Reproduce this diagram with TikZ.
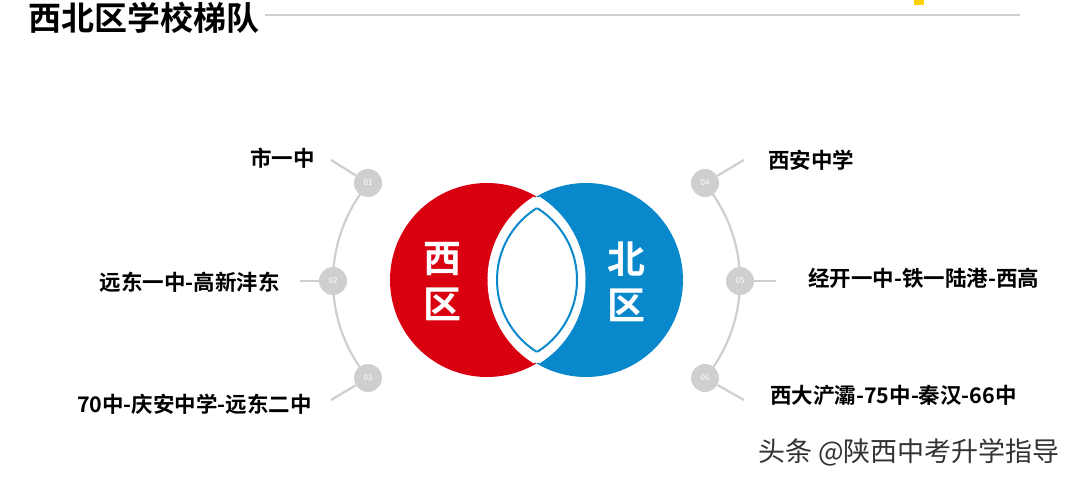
\documentclass[tikz,border=0pt]{standalone}
\usepackage{fontspec}
\setmainfont{Noto Sans CJK SC}[BoldFont={Noto Sans CJK SC Bold}]
\definecolor{redc}{HTML}{D9000F}
\definecolor{bluec}{HTML}{0A88CC}
\definecolor{grayc}{HTML}{CFCFCF}
\begin{document}
\begin{tikzpicture}[x=1pt,y=-1pt,
  num/.style={circle,fill=grayc,minimum size=28pt,inner sep=0pt,text=white,font=\fontsize{8}{8}\selectfont\itshape},
  lab/.style={font=\fontsize{21.5}{23}\selectfont\bfseries,inner sep=0pt},
  conn/.style={draw=grayc,line width=2.2pt}]
\useasboundingbox[fill=white] (0,0) rectangle (1080,478);
% title
\node[anchor=west,font=\fontsize{33}{34}\selectfont\bfseries,inner sep=0pt] (title) at (28,18) {西北区学校梯队};
\draw[grayc,line width=1.2pt] (265,15) -- (1020,15);
\fill[yellow!70!orange] (914,0) rectangle (924,5);
% arcs
\draw[conn] (485,281) ++(140:152) arc[start angle=140,end angle=220,radius=152];
\draw[conn] (588,281) ++(40:152) arc[start angle=40,end angle=-40,radius=152];
% circles
\fill[redc] (487,280) circle (97);
\fill[bluec] (586,280) circle (97);
\begin{scope}
\clip (487,280) circle (97);
\fill[white] (586,280) circle (97);
\end{scope}
\draw[white,line width=3pt] (586,280) ++(122:97) arc[start angle=122,end angle=238,radius=97];
\draw[white,line width=3pt] (487,280) ++(58:97) arc[start angle=58,end angle=-58,radius=97];
\begin{scope}
\clip (492.2,280) circle (84.8);
\draw[bluec,line width=2pt] (581.8,280) circle (84.8);
\end{scope}
\begin{scope}
\clip (581.8,280) circle (84.8);
\draw[bluec,line width=2pt] (492.2,280) circle (84.8);
\end{scope}
\node[text=white,font=\fontsize{38}{46}\selectfont\bfseries,align=center] (xi) at (442,282) {西\\区};
\node[text=white,font=\fontsize{38}{46}\selectfont\bfseries,align=center] (bei) at (626,282) {北\\区};
% number nodes
\node[num] (n1) at (368,183) {01};
\node[num] (n2) at (333,281) {02};
\node[num] (n3) at (368,378) {03};
\node[num] (n4) at (705,183) {04};
\node[num] (n5) at (740,281) {05};
\node[num] (n6) at (705,378) {06};
\coordinate (e1) at (331,160);
\coordinate (e2) at (300,281);
\coordinate (e3) at (331,400);
\coordinate (e4) at (744,160);
\coordinate (e5) at (776,281);
\coordinate (e6) at (744,400);
\draw[conn] (n1) -- (e1); \draw[conn] (n2) -- (e2); \draw[conn] (n3) -- (e3);
\draw[conn] (n4) -- (e4); \draw[conn] (n5) -- (e5); \draw[conn] (n6) -- (e6);
% labels
\node[lab,anchor=east] (l1) at (315,158) {市一中};
\node[lab,anchor=east] (l2) at (280,282) {远东一中-高新沣东};
\node[lab,anchor=east] (l3) at (312,404) {70中-庆安中学-远东二中};
\node[lab,anchor=west] (l4) at (768,160) {西安中学};
\node[lab,anchor=west] (l5) at (808,278) {经开一中-铁一陆港-西高};
\node[lab,anchor=west] (l6) at (770,395) {西大浐灞-75中-秦汉-66中};
% watermark
\node[anchor=west,inner sep=0pt,text=black!80,font=\fontsize{27}{28}\selectfont] (wm) at (758,452) {头条 @陕西中考升学指导};
\end{tikzpicture}
\end{document}
